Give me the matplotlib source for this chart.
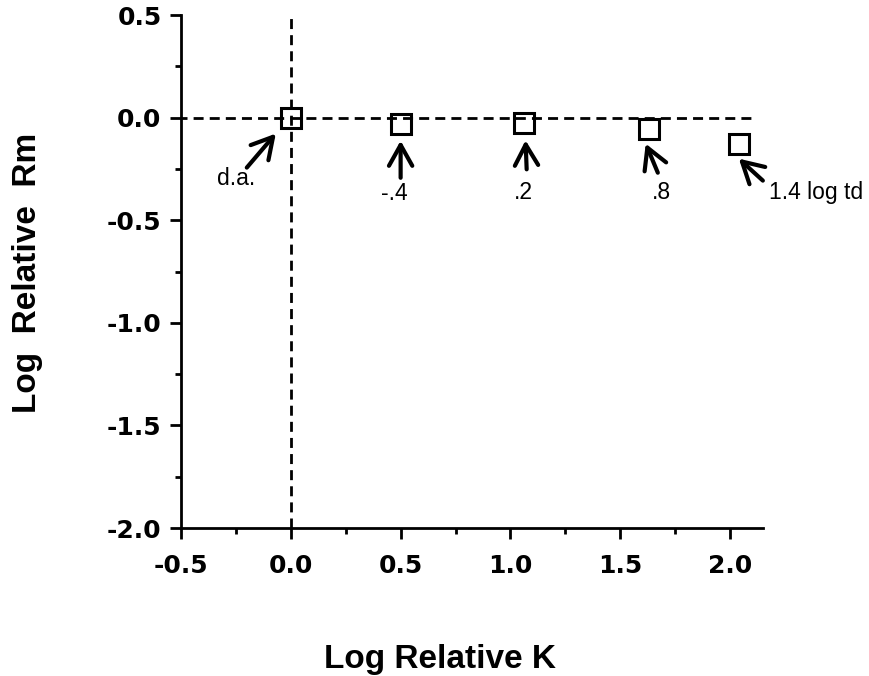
import matplotlib
matplotlib.use("Agg")
import matplotlib.pyplot as plt
import matplotlib.transforms as mtransforms

# Data
log_k = [0.0, 0.50, 1.06, 1.63, 2.04]
log_rm = [0.0, -0.03, -0.028, -0.054, -0.127]
point_labels = ["d.a.", "-.4", ".2", ".8", "1.4 log td"]

x_ticks = [-0.5, 0.0, 0.5, 1.0, 1.5, 2.0]
y_ticks = [-2.0, -1.5, -1.0, -0.5, 0.0, 0.5]

# arrow head / tail and label offsets from each point (points)
head_off = [(-10.8, -11.5), (0, -12.2), (1.4, -12.2), (-2.2, -10.8), (0, -10.8)]
tail_off = [(-31.7, -36), (0, -38.9), (2.2, -33.1), (6.5, -31.7), (17.3, -26.6)]
text_off = [(-39.6, -43.9), (-4.3, -50.4), (0, -50), (9.4, -46), (21.6, -35.3)]
text_ha = ["center", "center", "center", "center", "left"]

fig = plt.figure(figsize=(8.69, 6.76), dpi=100)
ax = fig.add_axes([0.2083, 0.2189, 0.8780 - 0.2083, 0.9778 - 0.2189])

# dashed reference lines through the origin
ax.plot([-0.52, 2.12], [0, 0], color="black", lw=2.0, dashes=(3.6, 2.2), zorder=1)
ax.plot([0, 0], [-2.0, 0.5], color="black", lw=2.0, dashes=(3.6, 2.2), zorder=1)

ax.plot(log_k, log_rm, linestyle="none", marker="s", markersize=14.5,
        markerfacecolor="none", markeredgecolor="black", markeredgewidth=2.2, zorder=3)

for x, y, lab, h, t, o, ha in zip(log_k, log_rm, point_labels, head_off, tail_off, text_off, text_ha):
    head_tr = ax.transData + mtransforms.ScaledTranslation(h[0] / 72, h[1] / 72, fig.dpi_scale_trans)
    tail_tr = ax.transData + mtransforms.ScaledTranslation(t[0] / 72, t[1] / 72, fig.dpi_scale_trans)
    ax.annotate("", xy=(x, y), xycoords=head_tr, xytext=(x, y), textcoords=tail_tr,
                arrowprops=dict(arrowstyle="->, head_length=0.75, head_width=0.42",
                                mutation_scale=20, lw=3.0, color="black",
                                shrinkA=0, shrinkB=0))
    ax.annotate(lab, xy=(x, y), xytext=o, textcoords="offset points",
                ha=ha, va="center", fontsize=16.5, family="Liberation Sans")

ax.set_xlim(-0.5, 2.15)
ax.set_ylim(-2.0, 0.5)
ax.set_xticks(x_ticks)
ax.set_yticks(y_ticks)
ax.set_xticks([-0.25, 0.25, 0.75, 1.25, 1.75], minor=True)
ax.set_yticks([-1.75, -1.25, -0.75, -0.25, 0.25], minor=True)
ax.set_xticklabels([f"{v:.1f}" for v in x_ticks], fontsize=18, fontweight="bold", family="DejaVu Sans")
ax.set_yticklabels([f"{v:.1f}" for v in y_ticks], fontsize=18, fontweight="bold", family="DejaVu Sans")
ax.tick_params(which="major", length=8, width=2, direction="out")
ax.tick_params(which="minor", length=4.5, width=2, direction="out")
ax.tick_params(axis="x", which="major", pad=11)
ax.tick_params(axis="y", which="major", pad=6)

for s in ["top", "right"]:
    ax.spines[s].set_visible(False)
for s in ["left", "bottom"]:
    ax.spines[s].set_linewidth(2)

fig.text(440 / 869, 1 - 668 / 676, "Log Relative K", ha="center", va="baseline",
         fontsize=24, fontweight="bold", family="Liberation Sans")
fig.text(28 / 869, 1 - 273 / 676, "Log  Relative  Rm", ha="center", va="center", rotation=90,
         fontsize=24, fontweight="bold", family="Liberation Sans")

plt.savefig("out.png", dpi=100)
